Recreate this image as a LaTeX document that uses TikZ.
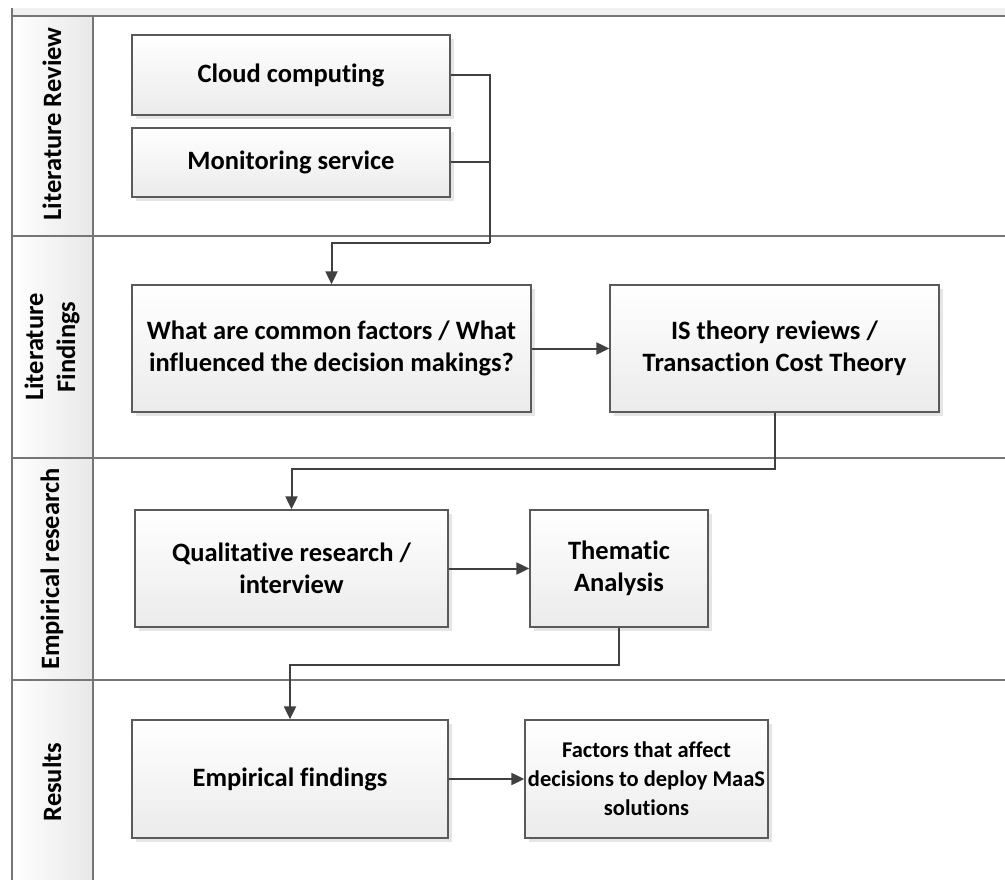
\documentclass[tikz,border=0pt]{standalone}
\usepackage{fontspec}
\setmainfont{Carlito}[Ligatures=NoCommon]
\usetikzlibrary{arrows.meta,shadows,calc}
\definecolor{boxline}{HTML}{5A5A5A}
\definecolor{conline}{HTML}{404040}
\definecolor{laneline}{HTML}{767676}
\definecolor{boxbot}{HTML}{EBEBEB}
\definecolor{hdrR}{HTML}{E8E8E8}
\definecolor{strip}{HTML}{F0F0F0}
\tikzset{
  box/.style={draw=boxline, line width=1.3pt, top color=white, bottom color=boxbot,
    align=center, font=\fontsize{26.5}{32}\selectfont\bfseries, inner sep=0pt,
    drop shadow={shadow xshift=4pt, shadow yshift=-4pt, fill=black!10, opacity=1}},
  smalltext/.style={font=\fontsize{22.5}{29}\selectfont\bfseries},
  hdr/.style={left color=white, right color=hdrR, draw=none},
  hdrtext/.style={rotate=90, align=center, font=\fontsize{26.5}{32}\selectfont\bfseries},
  lane/.style={draw=laneline, line width=1.4pt},
  conn/.style={draw=conline, line width=2pt},
  arr/.style={conn, -{Triangle[length=13pt,width=12pt]}},
}
\begin{document}
\begin{tikzpicture}[x=1pt,y=-1pt]
\useasboundingbox (0,0) rectangle (1005,880);
\fill[white] (0,0) rectangle (1005,880);
% top strip
\fill[strip] (12,8) rectangle (1005,16);
% header shading
\shade[hdr] (12,16) rectangle (93,236);
\shade[hdr] (12,236) rectangle (93,458);
\shade[hdr] (12,458) rectangle (93,680);
\shade[hdr] (12,680) rectangle (93,880);
% lane lines
\draw[lane] (12,16) -- (1005,16);
\draw[lane] (12,236) -- (1005,236);
\draw[lane] (12,458) -- (1005,458);
\draw[lane] (12,680) -- (1005,680);
\draw[lane] (12,8) -- (12,880);
\draw[lane] (93,16) -- (93,880);
% header texts
\node[hdrtext] (h1) at (52,124) {Literature Review};
\node[hdrtext] (h2) at (52,347) {Literature\\Findings};
\node[hdrtext] (h3) at (52,569) {Empirical research};
\node[hdrtext] (h4) at (52,782) {Results};
% boxes
\node[box, minimum width=318pt, minimum height=80pt] (cloud) at (291,75) {Cloud computing};
\node[box, minimum width=318pt, minimum height=69pt] (mon) at (291,162.5) {Monitoring service};
\node[box, minimum width=399pt, minimum height=127pt] (what) at (331.5,348.5) {What are common factors / What\\influenced the decision makings?};
\node[box, minimum width=329pt, minimum height=127pt] (is) at (774.5,348.5) {IS theory reviews /\\Transaction Cost Theory};
\node[box, minimum width=313pt, minimum height=117pt] (qual) at (291.5,568.5) {Qualitative research /\\interview};
\node[box, minimum width=178pt, minimum height=117pt] (them) at (619,568.5) {Thematic\\Analysis};
\node[box, minimum width=316pt, minimum height=118pt] (emp) at (290,779) {Empirical findings};
\node[box, smalltext, minimum width=243pt, minimum height=118pt] (fac) at (646.5,779) {Factors that affect\\decisions to deploy MaaS\\solutions};
% connectors
\coordinate (j1) at (490,243);
\draw[conn] (cloud.east) -| (j1);
\draw[conn] (mon.east) -| (j1);
\draw[arr] (j1) -| (what.north);
\draw[arr] (what.east) -- (is.west);
\draw[arr] (is.south) -- ++(0,56) -| (qual.north);
\draw[arr] (qual.east) -- (them.west);
\draw[arr] (them.south) -- ++(0,37) -| (emp.north);
\draw[arr] (emp.east) -- (fac.west);
\end{tikzpicture}
\end{document}
